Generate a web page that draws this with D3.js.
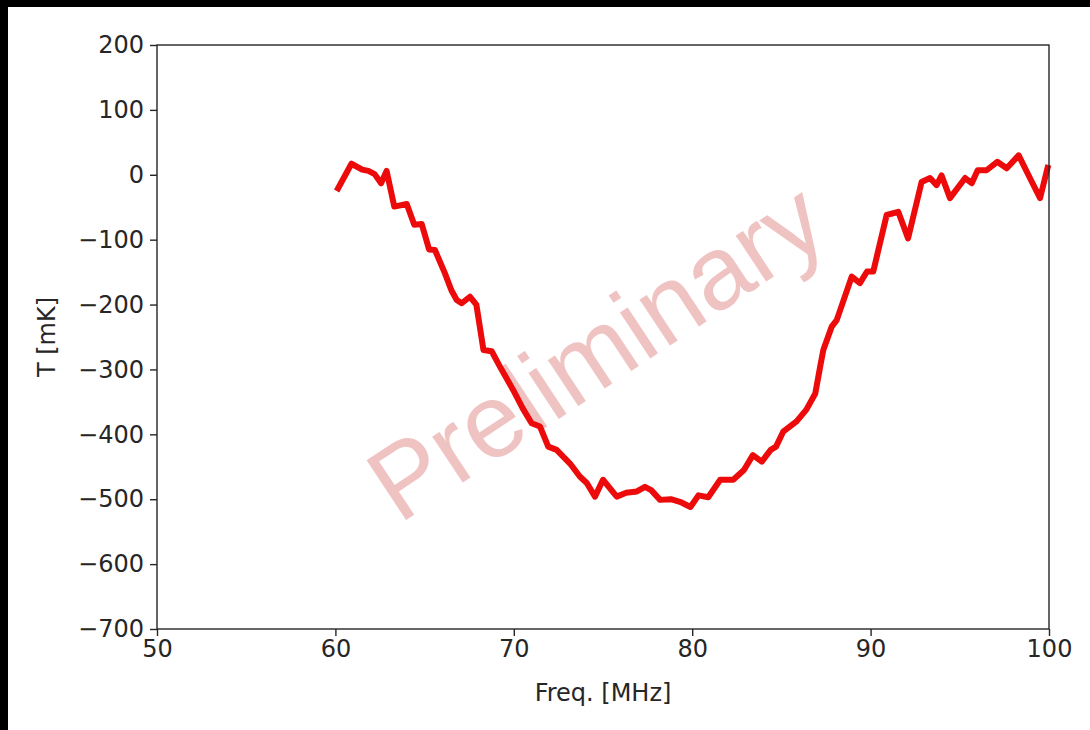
<!DOCTYPE html>
<html>
<head>
<meta charset="utf-8">
<script src="https://cdn.jsdelivr.net/npm/d3@7"></script>
<style>
  html, body { margin: 0; padding: 0; background: #000; }
  svg { display: block; }
  .axis text { font-family: "DejaVu Sans", sans-serif; font-size: 24px; fill: #262626; }
  .axis path, .axis line { stroke: #262626; stroke-width: 1.4; }
  .label { font-family: "DejaVu Sans", sans-serif; font-size: 24px; fill: #262626; }
</style>
</head>
<body>
<div id="chart"></div>
<script>
(function() {
    'use strict';

    // spectrum
    var freq = [60.07, 60.9, 61.5, 61.85, 62.2, 62.56, 62.87, 63.3, 64.0, 64.42, 64.84,
        65.25, 65.58, 66.14, 66.5, 66.8, 67.08, 67.54, 67.9, 68.3, 68.76, 69.23, 69.97,
        70.5, 71.0, 71.47, 71.93, 72.4, 73.15, 73.7, 74.09, 74.55, 75.0, 75.77, 76.3,
        76.9, 77.35, 77.7, 78.2, 78.8, 79.4, 79.9, 80.35, 80.9, 81.57, 82.3, 82.9, 83.4,
        83.9, 84.4, 84.7, 85.1, 85.85, 86.4, 86.9, 87.17, 87.35, 87.82, 88.1, 88.94,
        89.4, 89.8, 90.15, 90.9, 91.55, 92.1, 92.86, 93.33, 93.7, 93.98, 94.45, 95.3,
        95.67, 96.0, 96.5, 97.1, 97.63, 98.3, 98.93, 99.5, 99.96];
    var temp = [-25, 17, 8, 6, 1, -13, 6, -49, -45, -77, -76,
        -115, -116, -152, -178, -193, -198, -188, -200, -270, -272, -296, -332,
        -360, -383, -388, -419, -424, -445, -465, -475, -496, -470, -496, -490,
        -488, -481, -486, -501, -500, -505, -512, -494, -497, -470, -470, -455, -432,
        -442, -424, -419, -396, -380, -362, -337, -296, -270, -234, -224, -157,
        -167, -149, -149, -62, -57, -98, -11, -5, -16, -1, -36, -5,
        -13, 7, 7, 20, 10, 30, -5, -36, 15];
    var xTicks = [50, 60, 70, 80, 90, 100];
    var yTicks = [200, 100, 0, -100, -200, -300, -400, -500, -600, -700];

    var W = 1090, H = 730;
    var left = 157, right = 1049, top = 45, bottom = 629;

    var svg = d3.select('#chart').append('svg')
        .attr('width', W)
        .attr('height', H);

    // black border of the screenshot
    svg.append('rect').attr('width', W).attr('height', H).attr('fill', '#000');
    svg.append('rect')
        .attr('x', 8).attr('y', 7)
        .attr('width', W - 8).attr('height', H - 7)
        .attr('fill', '#fff');

    var x = d3.scaleLinear().domain([50, 100]).range([left, right]);
    var y = d3.scaleLinear().domain([-700, 200]).range([bottom, top]);

    // watermark, drawn under the data line
    svg.append('text')
        .attr('transform', 'translate(' + x(74.6) + ',' + y(-272) + ') rotate(-33.5)')
        .attr('text-anchor', 'middle')
        .attr('dominant-baseline', 'central')
        .style('font-family', '"Liberation Sans", Arial, sans-serif')
        .style('font-size', '104px')
        .style('fill', 'rgb(240,195,195)')
        .text('Preliminary');

    var pts = freq.map(function(f, i) { return [f, temp[i]]; });
    var line = d3.line()
        .x(function(d) { return x(d[0]); })
        .y(function(d) { return y(d[1]); });

    svg.append('path')
        .datum(pts)
        .attr('d', line)
        .attr('fill', 'none')
        .attr('stroke', '#ec0a0a')
        .attr('stroke-width', 6)
        .attr('stroke-linejoin', 'round')
        .attr('stroke-linecap', 'butt');

    // frame
    svg.append('rect')
        .attr('x', left).attr('y', top)
        .attr('width', right - left).attr('height', bottom - top)
        .attr('fill', 'none')
        .attr('stroke', '#262626')
        .attr('stroke-width', 1.4);

    svg.append('g')
        .attr('class', 'axis')
        .attr('transform', 'translate(0,' + bottom + ')')
        .call(d3.axisBottom(x).tickValues(xTicks).tickSize(7).tickSizeOuter(0).tickPadding(4).tickFormat(d3.format('d')));

    svg.append('g')
        .attr('class', 'axis')
        .attr('transform', 'translate(' + left + ',0)')
        .call(d3.axisLeft(y).tickValues(yTicks).tickSize(7).tickSizeOuter(0).tickPadding(6).tickFormat(d3.format('d')));

    svg.selectAll('.axis .domain').remove();

    svg.append('text')
        .attr('class', 'label')
        .attr('x', (left + right) / 2)
        .attr('y', 701)
        .attr('text-anchor', 'middle')
        .text('Freq. [MHz]');

    svg.append('text')
        .attr('class', 'label')
        .attr('transform', 'translate(55,' + (top + bottom) / 2 + ') rotate(-90)')
        .attr('text-anchor', 'middle')
        .text('T [mK]');
})();
</script>
</body>
</html>
